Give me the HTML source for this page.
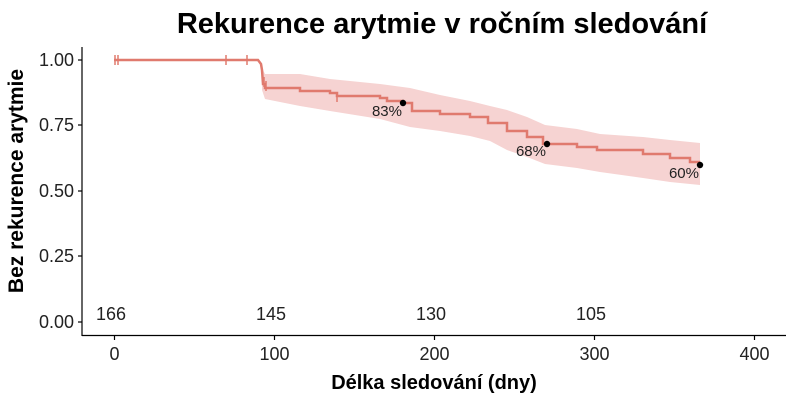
<!DOCTYPE html>
<html><head><meta charset="utf-8"><style>body{margin:0;background:#fff}svg{display:block}</style></head><body>
<svg width="800" height="403" xmlns="http://www.w3.org/2000/svg" font-family="Liberation Sans, sans-serif">
<rect width="800" height="403" fill="#fff"/>
<text x="442" y="33" font-size="29" font-weight="bold" text-anchor="middle" fill="#000">Rekurence arytmie v ročním sledování</text>
<polygon fill="#f6d3d2" points="262,68 265,74 300,74 330,79 380,84 410,88 440,95 470,101 490,106 507,110 527,117 545,125 577,129 600,134 643,137 670,140 700,143 700,185 670,182 643,178 600,172 577,168 545,164 527,157 507,150 490,141 470,136 440,131 410,127 380,119 330,111 300,106 265,99 262,90"/>
<polyline fill="none" stroke="#e07a6e" stroke-width="2.5" points="114,60 258,60 261,64 262,70 263,84 265,84 265,88 300,88 300,91 330,91 330,93 337,93 337,96 380,96 380,98 387,98 387,101 403,101 403,103 412,103 412,111 440,111 440,114 470,114 470,117 488,117 488,123 507,123 507,131 527,131 527,137 543,137 543,144 577,144 577,147 597,147 597,150 643,150 643,154 670,154 670,158 690,158 690,162 699,162 699,165"/>
<g stroke="#e07a6e" stroke-width="1.5">
<line x1="115" y1="55" x2="115" y2="65"/><line x1="118" y1="55" x2="118" y2="65"/>
<line x1="226" y1="55" x2="226" y2="65"/><line x1="247" y1="55" x2="247" y2="65"/>
<line x1="264" y1="77" x2="264" y2="87"/><line x1="266" y1="81" x2="266" y2="91"/>
<line x1="337" y1="92" x2="337" y2="102"/>
</g>
<g fill="#000"><circle cx="403" cy="103" r="3.2"/><circle cx="547" cy="144" r="3.2"/><circle cx="700" cy="165" r="3.2"/></g>
<g font-size="15" fill="#222" text-anchor="end"><text x="402" y="116">83%</text><text x="546" y="156">68%</text><text x="699" y="178">60%</text></g>
<g stroke="#000" stroke-width="1.2"><line x1="82" y1="47" x2="82" y2="336"/><line x1="82" y1="335.5" x2="786" y2="335.5"/>
<line x1="78" y1="60" x2="82" y2="60"/><line x1="78" y1="125" x2="82" y2="125"/><line x1="78" y1="191" x2="82" y2="191"/><line x1="78" y1="256" x2="82" y2="256"/><line x1="78" y1="322" x2="82" y2="322"/>
<line x1="114.5" y1="336" x2="114.5" y2="340"/><line x1="274.5" y1="336" x2="274.5" y2="340"/><line x1="434.5" y1="336" x2="434.5" y2="340"/><line x1="594.5" y1="336" x2="594.5" y2="340"/><line x1="754.5" y1="336" x2="754.5" y2="340"/></g>
<g font-size="18" fill="#222" text-anchor="end"><text x="74" y="66">1.00</text><text x="74" y="131">0.75</text><text x="74" y="197">0.50</text><text x="74" y="262">0.25</text><text x="74" y="328">0.00</text></g>
<g font-size="18" fill="#222" text-anchor="middle"><text x="114.5" y="360">0</text><text x="274.5" y="360">100</text><text x="434.5" y="360">200</text><text x="594.5" y="360">300</text><text x="754.5" y="360">400</text>
<text x="111" y="320">166</text><text x="271" y="320">145</text><text x="431" y="320">130</text><text x="591" y="320">105</text></g>
<text x="434" y="389" font-size="20" font-weight="bold" text-anchor="middle">Délka sledování (dny)</text>
<text transform="translate(23,181) rotate(-90)" font-size="21" font-weight="bold" text-anchor="middle">Bez rekurence arytmie</text>
</svg>
</body></html>
